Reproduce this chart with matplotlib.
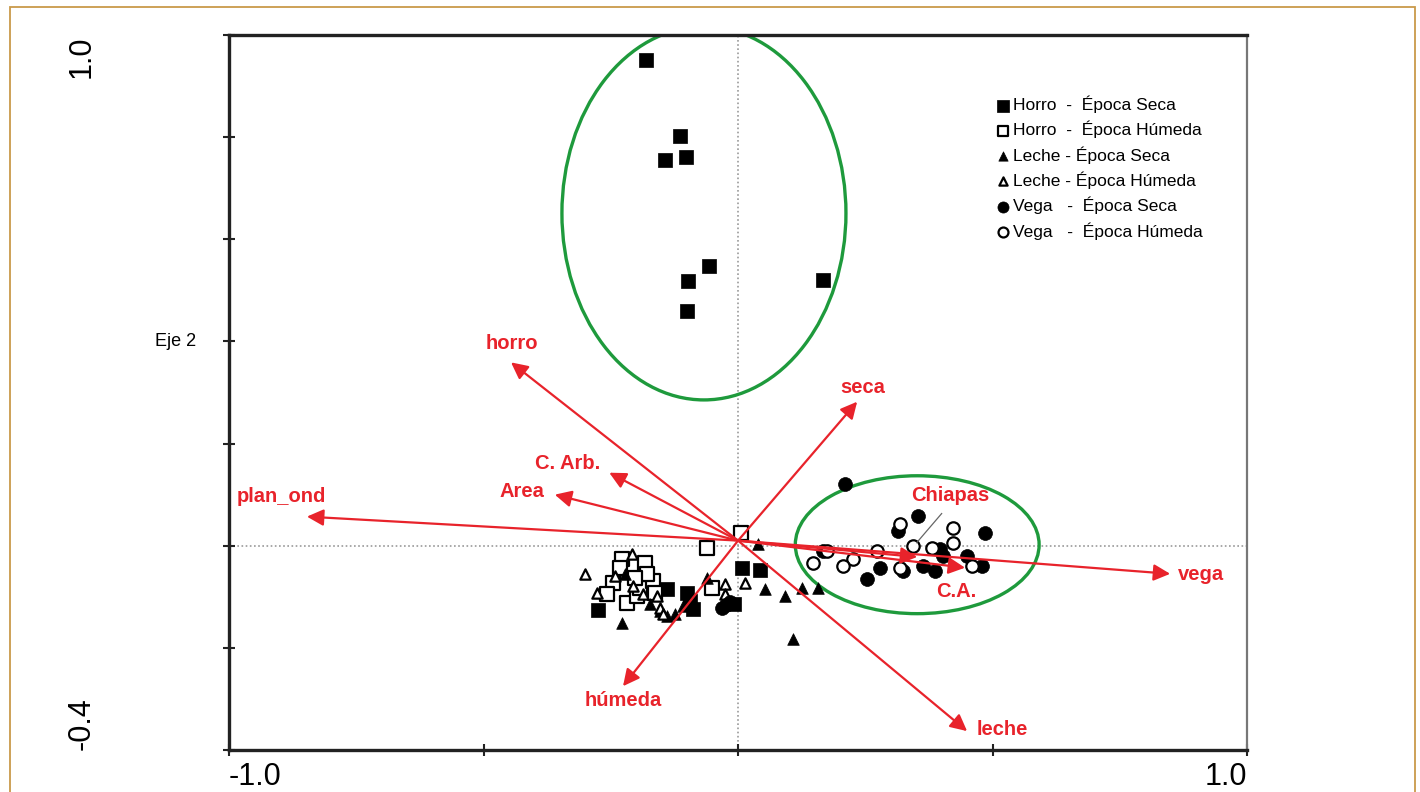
import numpy as np
import matplotlib
matplotlib.use('Agg')
import matplotlib.pyplot as plt
from matplotlib.patches import Ellipse, Rectangle

plt.rcParams['font.family'] = ['Liberation Sans', 'DejaVu Sans']

# --- datos de los sitios (Eje 1, Eje 2) ---
horro_seca_x = [-0.181, -0.114, -0.143, -0.102, -0.057, -0.098, 0.167, -0.100,
                -0.275, -0.139, -0.100, -0.088, -0.094, 0.008, 0.043, -0.008]
horro_seca_y = [0.951, 0.802, 0.755, 0.761, 0.547, 0.518, 0.520, 0.459,
                -0.125, -0.084, -0.092, -0.124, -0.108, -0.043, -0.047, -0.114]

horro_hum_x = [0.006, -0.061, -0.228, -0.183, -0.232, -0.246, -0.257, -0.218,
               -0.198, -0.193, -0.167, -0.163, -0.179, -0.202, -0.051]
horro_hum_y = [0.025, -0.004, -0.025, -0.033, -0.043, -0.073, -0.094, -0.112,
               -0.098, -0.082, -0.069, -0.092, -0.055, -0.063, -0.082]

leche_seca_x = [-0.222, -0.228, -0.061, -0.139, -0.153, -0.173, 0.039, 0.053,
                0.092, 0.108, 0.126, 0.157, -0.124, -0.108]
leche_seca_y = [-0.055, -0.151, -0.063, -0.137, -0.127, -0.114, 0.004, -0.084,
                -0.098, -0.182, -0.082, -0.082, -0.133, -0.118]

leche_hum_x = [-0.301, -0.277, -0.206, -0.187, -0.159, -0.153, -0.147, -0.026,
               -0.026, 0.014, -0.208, -0.242]
leche_hum_y = [-0.055, -0.092, -0.078, -0.094, -0.098, -0.122, -0.133, -0.075,
               -0.094, -0.073, -0.016, -0.059]

vega_seca_x = [0.210, 0.354, 0.314, 0.485, 0.397, 0.403, 0.279, 0.253, 0.324,
               0.363, 0.387, 0.450, 0.479, 0.167, -0.031, -0.016, -0.024]
vega_seca_y = [0.120, 0.059, 0.029, 0.024, -0.006, -0.020, -0.043, -0.065, -0.049,
               -0.039, -0.049, -0.020, -0.039, -0.010, -0.122, -0.110, -0.116]

vega_hum_x = [0.318, 0.422, 0.344, 0.381, 0.422, 0.273, 0.226, 0.206, 0.147,
              0.318, 0.460, 0.175]
vega_hum_y = [0.043, 0.035, 0.000, -0.004, 0.006, -0.010, -0.025, -0.039, -0.033,
              -0.043, -0.039, -0.010]

# --- variables (vectores) ---
var_nombres = ['horro', 'seca', 'C. Arb.', 'Area', 'plan_ond', 'vega',
               'húmeda', 'leche', 'Chiapas', 'C.A.']
var_x = [-0.446, 0.234, -0.253, -0.360, -0.847, 0.849, -0.226, 0.450, 0.352, 0.446]
var_y = [0.359, 0.282, 0.143, 0.100, 0.057, -0.055, -0.275, -0.363, -0.022, -0.043]
etiq_x = [-0.444, 0.244, -0.334, -0.424, -0.898, 0.910, -0.226, 0.519, 0.417, 0.428]
etiq_y = [0.396, 0.310, 0.161, 0.106, 0.096, -0.057, -0.304, -0.359, 0.098, -0.090]

rojo = '#e8232b'
verde = '#1e9a3c'

fig = plt.figure(figsize=(14.2, 7.92), dpi=100)
ax = fig.add_axes([0.1613, 0.0530, 0.7169, 0.9028])
ax.set_xlim(-1.0, 1.0)
ax.set_ylim(-0.4, 1.0)

# borde de la figura
fig.patches.append(Rectangle((10 / 1420, -0.05), 1405 / 1420, 1.05 - 7 / 792,
                             transform=fig.transFigure, fill=False,
                             edgecolor='#c99a4a', lw=1.3))

ax.axhline(0, color='#999999', lw=1.2, ls=(0, (1, 1.5)), zorder=0)
ax.axvline(0, color='#999999', lw=1.2, ls=(0, (1, 1.5)), zorder=0)

# elipses
ax.add_patch(Ellipse((-0.067, 0.651), 0.558, 0.731, fill=False,
                     edgecolor=verde, lw=2.4, zorder=2))
ax.add_patch(Ellipse((0.352, 0.002), 0.479, 0.270, fill=False,
                     edgecolor=verde, lw=2.4, zorder=2))

# puntos
ax.scatter(horro_seca_x, horro_seca_y, marker='s', s=110, c='black',
           edgecolors='black', linewidths=0.5, label='Horro  -  Época Seca', zorder=3)
ax.scatter(horro_hum_x, horro_hum_y, marker='s', s=90, facecolors='white',
           edgecolors='black', linewidths=1.6, label='Horro  -  Época Húmeda', zorder=3)
ax.scatter(leche_seca_x, leche_seca_y, marker='^', s=70, c='black',
           edgecolors='black', linewidths=0.5, label='Leche - Época Seca', zorder=3)
ax.scatter(leche_hum_x, leche_hum_y, marker='^', s=55, facecolors='white',
           edgecolors='black', linewidths=1.6, label='Leche - Época Húmeda', zorder=3)
ax.scatter(vega_seca_x, vega_seca_y, marker='o', s=100, c='black',
           edgecolors='black', linewidths=0.5, label='Vega   -  Época Seca', zorder=3)
ax.scatter(vega_hum_x, vega_hum_y, marker='o', s=80, facecolors='white',
           edgecolors='black', linewidths=1.6, label='Vega   -  Época Húmeda', zorder=3)

# vectores
for nom, vx, vy, tx, ty in zip(var_nombres, var_x, var_y, etiq_x, etiq_y):
    ax.annotate('', xy=(vx, vy), xytext=(0, 0.01),
                arrowprops=dict(arrowstyle='-|>', color=rojo, lw=1.6,
                                mutation_scale=25, shrinkA=0, shrinkB=0),
                zorder=4)
    ax.text(tx, ty, nom, color=rojo, fontsize=14.5, fontweight='bold',
            ha='center', va='center', zorder=5)

# linea guia de Chiapas
ax.plot([0.400, 0.351], [0.063, 0.006], color='#666666', lw=0.9, zorder=4)

ax.text(-0.053, 0.4, 'Eje 2', transform=ax.get_yaxis_transform(),
        fontsize=13, ha='center', va='center')

# ejes
ax.set_xticks([-1.0, -0.5, 0.0, 0.5, 1.0])
ax.set_xticklabels(['-1.0', '', '', '', '1.0'], fontsize=22)
ax.set_yticks([-0.4, -0.2, 0.0, 0.2, 0.4, 0.6, 0.8, 1.0])
ax.set_yticklabels(['-0.4', '', '', '', '', '', '', '1.0'], fontsize=22,
                   rotation=90)
ax.tick_params(axis='both', direction='inout', length=9, width=1.5, color='#222222')
ax.tick_params(axis='x', pad=4)
ax.tick_params(axis='y', pad=102)
xl = ax.get_xticklabels()
xl[0].set_ha('left')
xl[-1].set_ha('right')
yl = ax.get_yticklabels()
yl[0].set_va('bottom')
yl[-1].set_va('top')
for t in yl:
    t.set_ha('center')

for s in ['left', 'bottom', 'top']:
    ax.spines[s].set_linewidth(2.4)
    ax.spines[s].set_color('#222222')
ax.spines['right'].set_linewidth(1.6)
ax.spines['right'].set_color('#777777')

ax.legend(loc='upper left', bbox_to_anchor=(0.745, 0.925), frameon=False,
          fontsize=12.5, handletextpad=0.1, labelspacing=0.45, borderaxespad=0,
          markerscale=0.8, handlelength=1.0)

fig.savefig('out.png', dpi=100)
